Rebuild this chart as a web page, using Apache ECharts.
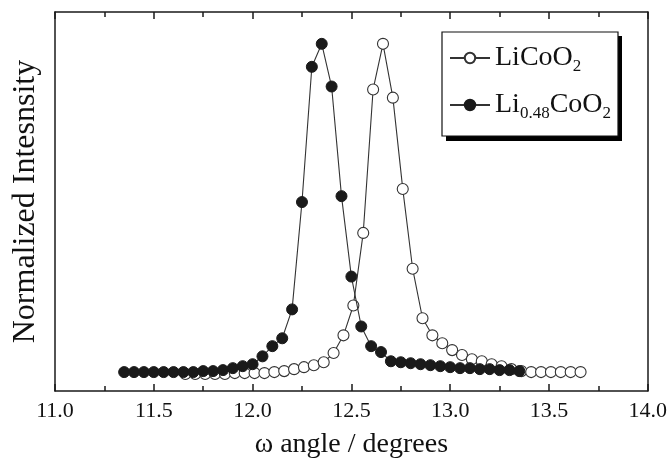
<!DOCTYPE html>
<html>
<head>
<meta charset="utf-8">
<script src="https://cdn.jsdelivr.net/npm/echarts@6/dist/echarts.min.js"></script>
<style>
html,body{margin:0;padding:0;background:#fff;}
#c{width:670px;height:464px;}
</style>
</head>
<body>
<div id="c"></div>
<script>
// ---- data ----
const seriesNames = ['LiCoO2', 'Li0.48CoO2'];
const xTicks = [11.0, 11.5, 12.0, 12.5, 13.0, 13.5, 14.0];

// LiCoO2 (open circles)
const openX = [11.66,11.71,11.76,11.81,11.86,11.91,11.96,12.01,12.06,12.11,
               12.16,12.21,12.26,12.31,12.36,12.41,12.46,12.51,12.56,12.61,
               12.66,12.71,12.76,12.81,12.86,12.91,12.96,13.01,13.06,13.11,
               13.16,13.21,13.26,13.31,13.36,13.41,13.46,13.51,13.56,13.61,13.66];
const openY = [-0.006,-0.006,-0.006,-0.006,-0.006,-0.003,-0.003,-0.003,-0.003,0.000,
               0.003,0.009,0.015,0.021,0.030,0.058,0.112,0.203,0.424,0.861,
               1.000,0.836,0.558,0.315,0.164,0.112,0.088,0.067,0.052,0.039,
               0.033,0.024,0.018,0.009,0.003,0.000,0.000,0.000,0.000,0.000,0.000];

// Li0.48CoO2 (filled circles)
const filledX = [11.35,11.40,11.45,11.50,11.55,11.60,11.65,11.70,11.75,11.80,
                 11.85,11.90,11.95,12.00,12.05,12.10,12.15,12.20,12.25,12.30,
                 12.35,12.40,12.45,12.50,12.55,12.60,12.65,12.70,12.75,12.80,
                 12.85,12.90,12.95,13.00,13.05,13.10,13.15,13.20,13.25,13.30,13.35];
const filledY = [0.000,0.000,0.000,0.000,0.000,0.000,0.000,0.000,0.003,0.003,
                 0.006,0.012,0.018,0.024,0.048,0.079,0.103,0.191,0.518,0.930,
                 1.000,0.870,0.536,0.291,0.139,0.079,0.061,0.033,0.030,0.027,
                 0.024,0.021,0.018,0.015,0.012,0.012,0.009,0.009,0.006,0.006,0.003];

const pair = (xs, ys) => xs.map((x, i) => [x, ys[i]]);

const FONT = '"Liberation Serif", "Times New Roman", serif';
const AXIS_COLOR = '#1a1a1a';

const chart = echarts.init(document.getElementById('c'), null, {renderer: 'canvas'});

const baseX = {
  type: 'value', min: 11, max: 14, interval: 0.5,
  axisLine: {show: true, onZero: false, lineStyle: {color: AXIS_COLOR, width: 1.5}},
  axisTick: {show: true, inside: true, length: 7, lineStyle: {color: AXIS_COLOR, width: 1.5}},
  minorTick: {show: true, splitNumber: 2, length: 5, lineStyle: {color: AXIS_COLOR, width: 1.5}},
  splitLine: {show: false}, minorSplitLine: {show: false}
};

chart.setOption({
  animation: false,
  backgroundColor: '#fff',
  grid: {left: 55, right: 20, top: 12, bottom: 71},
  xAxis: [
    Object.assign({}, baseX, {
      position: 'bottom',
      name: 'ω angle / degrees', nameLocation: 'middle', nameGap: 40,
      nameTextStyle: {fontFamily: FONT, fontSize: 28, color: '#111'},
      axisLabel: {show: true, margin: 9, fontFamily: FONT, fontSize: 22, color: '#111',
        formatter: v => xTicks.indexOf(v) >= 0 ? v.toFixed(1) : ''}
    }),
    Object.assign({}, baseX, {position: 'top', axisLabel: {show: false}})
  ],
  yAxis: [
    {
      type: 'value', min: -0.0576, max: 1.097, position: 'left',
      name: 'Normalized Intesnsity', nameLocation: 'middle', nameGap: 13,
      nameTextStyle: {fontFamily: FONT, fontSize: 32, color: '#111'},
      axisLine: {show: true, onZero: false, lineStyle: {color: AXIS_COLOR, width: 1.5}},
      axisTick: {show: false}, axisLabel: {show: false}, splitLine: {show: false}
    },
    {
      type: 'value', min: -0.0576, max: 1.097, position: 'right',
      axisLine: {show: true, onZero: false, lineStyle: {color: AXIS_COLOR, width: 1.5}},
      axisTick: {show: false}, axisLabel: {show: false}, splitLine: {show: false}
    }
  ],
  graphic: [
    {type: 'rect', shape: {x: 446, y: 36, width: 176, height: 105}, style: {fill: '#000'}, z: 10},
    {type: 'rect', shape: {x: 442, y: 32, width: 176, height: 104}, style: {fill: '#fff', stroke: '#111', lineWidth: 1.2}, z: 11}
  ],
  legend: {
    orient: 'vertical', left: 449, top: 41, padding: 0, z: 20,
    itemWidth: 40, itemHeight: 13, itemGap: 13,
    data: [seriesNames[0], seriesNames[1]],
    formatter: n => n === 'LiCoO2' ? 'LiCoO{s|2}' : 'Li{s|0.48}CoO{s|2}',
    textStyle: {
      fontFamily: FONT, fontSize: 28, color: '#111', lineHeight: 34,
      rich: {s: {fontFamily: FONT, fontSize: 17, color: '#111', lineHeight: 17, verticalAlign: 'bottom'}}
    }
  },
  series: [
    {
      name: seriesNames[0], type: 'line', data: pair(openX, openY),
      symbol: 'circle', symbolSize: 11, showAllSymbol: true,
      lineStyle: {color: '#333', width: 1.1},
      itemStyle: {color: '#fff', borderColor: '#333', borderWidth: 1.1},
      z: 3
    },
    {
      name: seriesNames[1], type: 'line', data: pair(filledX, filledY),
      symbol: 'circle', symbolSize: 11, showAllSymbol: true,
      lineStyle: {color: '#333', width: 1.1},
      itemStyle: {color: '#1a1a1a', borderColor: '#1a1a1a', borderWidth: 1},
      z: 4
    }
  ]
});
</script>
</body>
</html>
